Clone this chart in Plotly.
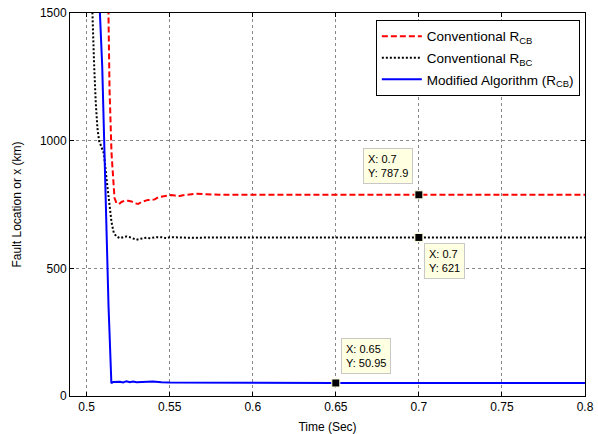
import plotly.graph_objects as go

# Conventional R_CB (red dashed)
t_cb = [0.5125, 0.5132, 0.5138, 0.5150, 0.5158, 0.5168, 0.5180, 0.5195, 0.521, 0.523, 0.525, 0.527,
        0.529, 0.531, 0.533, 0.535, 0.537, 0.539, 0.541, 0.543, 0.545, 0.547, 0.549, 0.551, 0.553,
        0.555, 0.558, 0.562, 0.566, 0.570, 0.575, 0.580, 0.600, 0.650, 0.700, 0.800]
y_cb = [1800, 1500, 1200, 950, 850, 775, 755, 752, 760, 765, 765, 762,
        755, 752, 760, 765, 768, 768, 770, 778, 780, 783, 785, 787, 785,
        782, 786, 790, 792, 791, 789, 788, 788, 788, 787.9, 788]

# Conventional R_BC (black dotted)
t_bc = [0.502, 0.5034, 0.5045, 0.5055, 0.5065, 0.5075, 0.509, 0.5104, 0.512, 0.5134, 0.515, 0.5164,
        0.518, 0.520, 0.522, 0.524, 0.526, 0.528, 0.530, 0.532, 0.534, 0.536, 0.538, 0.540, 0.542,
        0.545, 0.548, 0.550, 0.560, 0.600, 0.700, 0.800]
y_bc = [1800, 1500, 1300, 1150, 1050, 1000, 975, 950, 850, 768, 680, 638,
        625, 618, 622, 625, 622, 618, 612, 615, 618, 620, 618, 620, 622,
        622, 618, 622, 620, 621, 621, 621]

# Modified Algorithm (R_CB) (blue solid)
t_mod = [0.5075, 0.508, 0.5094, 0.5105, 0.511, 0.5119, 0.5125, 0.5132, 0.5138, 0.5145, 0.5149,
         0.516, 0.520, 0.522, 0.524, 0.526, 0.528, 0.530, 0.535, 0.540, 0.545, 0.550, 0.600, 0.650, 0.800]
y_mod = [1800, 1500, 1290, 1000, 897, 638, 442, 350, 246, 120, 50,
         55, 56, 53, 58, 54, 57, 54, 55, 57, 54, 53, 52, 50.95, 51]

# Data tips
tip_x = [0.7, 0.7, 0.65]
tip_y = [787.9, 621, 50.95]
tip_text = ["X: 0.7<br>Y: 787.9", "X: 0.7<br>Y: 621", "X: 0.65<br>Y: 50.95"]

x_ticks = [0.5, 0.55, 0.6, 0.65, 0.7, 0.75, 0.8]
x_labels = ["0.5", "0.55", "0.6", "0.65", "0.7", "0.75", "0.8"]
y_ticks = [0, 500, 1000, 1500]

font = "Liberation Sans, Arial, sans-serif"

fig = go.Figure()
fig.add_trace(go.Scatter(x=t_cb, y=y_cb, mode="lines", name="Conventional R<sub>CB</sub>",
                         legendgroup="a", line=dict(color="#ff0000", width=2, dash="6px,3px")))
fig.add_trace(go.Scatter(x=t_bc, y=y_bc, mode="lines", name="Conventional R<sub>BC</sub>",
                         legendgroup="b", line=dict(color="#000000", width=2, dash="2px,2px")))
fig.add_trace(go.Scatter(x=t_mod, y=y_mod, mode="lines", name="Modified Algorithm (R<sub>CB</sub>)",
                         legendgroup="c", line=dict(color="#0000ff", width=2)))
fig.add_trace(go.Scatter(x=tip_x, y=tip_y, mode="markers", showlegend=False, hoverinfo="skip",
                         marker=dict(symbol="square", size=8, color="black",
                                     line=dict(color="#ffffe1", width=1))))

anchors = [("right", "bottom", -6, 11), ("left", "top", 5, -6), ("left", "bottom", 5, 9)]
for x, y, txt, (xa, ya, xs, ys) in zip(tip_x, tip_y, tip_text, anchors):
    fig.add_annotation(x=x, y=y, text=txt, showarrow=False, align="left",
                       xanchor=xa, yanchor=ya, xshift=xs, yshift=ys,
                       bgcolor="#ffffe1", bordercolor="#c8c8c8", borderwidth=1, borderpad=4,
                       font=dict(family=font, size=11, color="black"))

axis_common = dict(showline=True, linecolor="black", linewidth=1, mirror="ticks",
                   ticks="inside", ticklen=4, tickcolor="black", automargin=False,
                   showgrid=True, gridcolor="#888888", griddash="dot", gridwidth=1,
                   zeroline=False, tickfont=dict(family=font, size=12, color="black"))

fig.update_xaxes(range=[0.49, 0.8], tickvals=x_ticks, ticktext=x_labels,
                 title=dict(text="Time (Sec)", font=dict(family=font, size=12, color="black")),
                 **axis_common)
fig.update_yaxes(range=[0, 1500], tickvals=y_ticks,
                 title=dict(text="Fault Location or x (km)", font=dict(family=font, size=12, color="black")),
                 **axis_common)

fig.update_layout(
    width=598, height=434,
    margin=dict(l=70, r=13, t=13, b=38),
    paper_bgcolor="white", plot_bgcolor="white",
    font=dict(family=font, size=12, color="black"),
    legend=dict(x=0.99, y=0.982, xanchor="right", yanchor="top",
                bgcolor="white", bordercolor="black", borderwidth=1,
                font=dict(family=font, size=13.5, color="black"),
                tracegroupgap=1, itemwidth=40),
    showlegend=True,
)

fig.write_html("out.html")
